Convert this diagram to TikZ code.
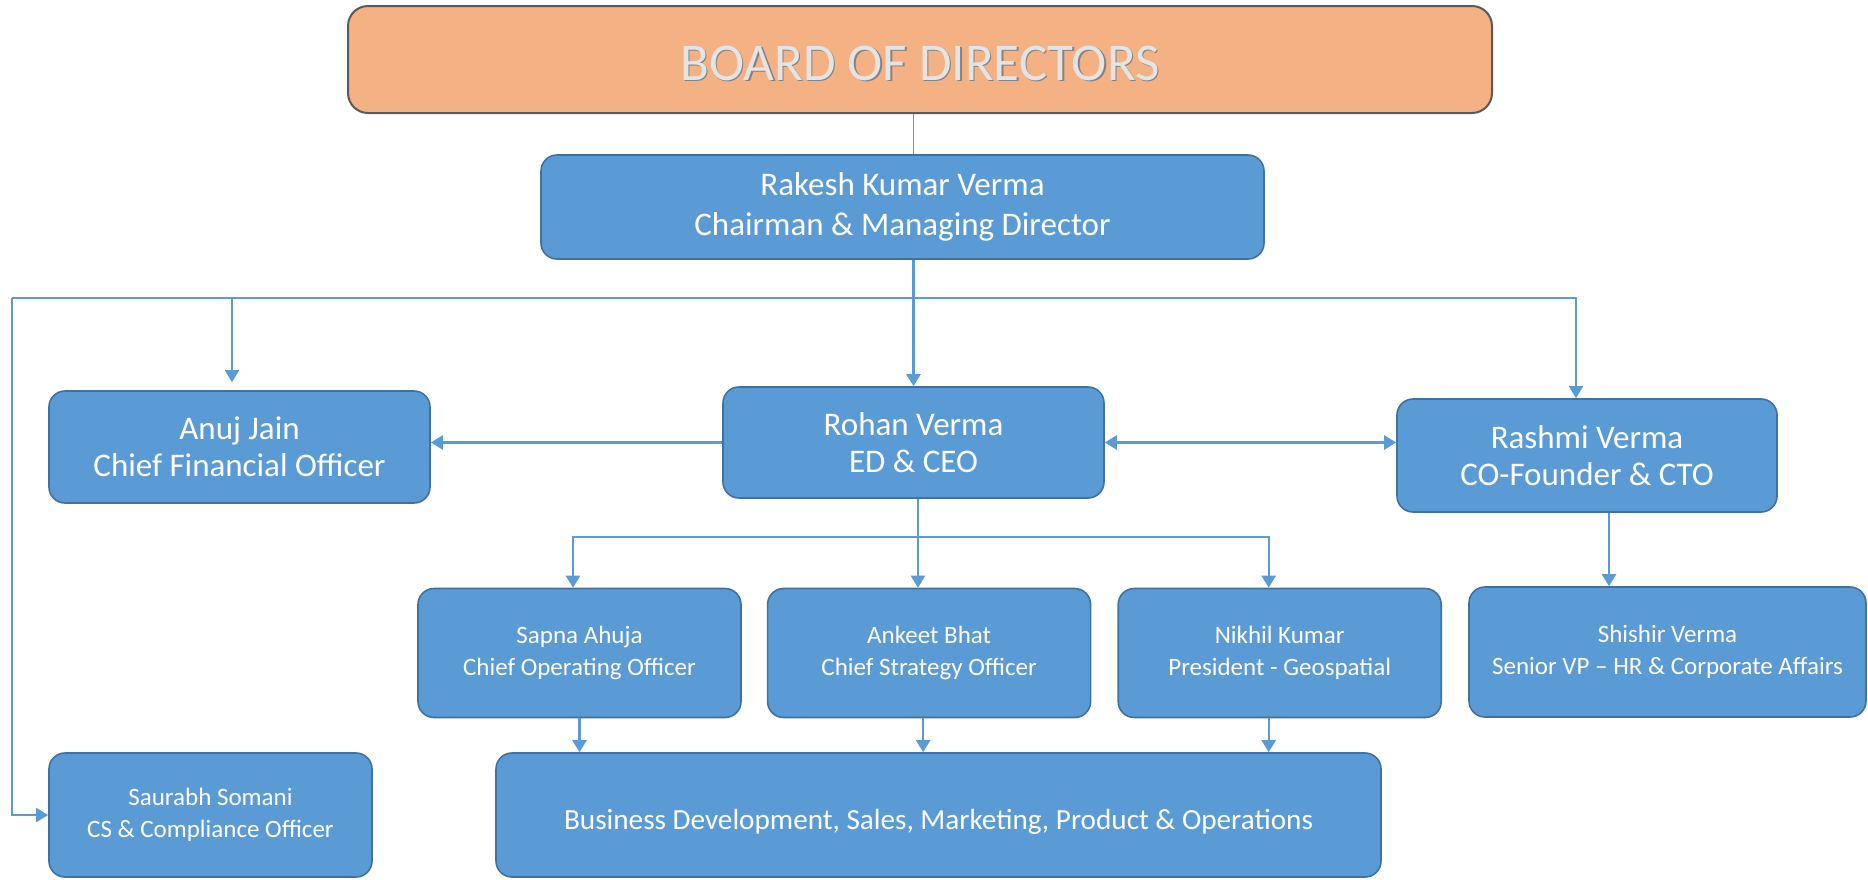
\documentclass[tikz,border=0pt]{standalone}
\usepackage{fontspec}
\setmainfont{Carlito}
\usepackage{tikz}
\usetikzlibrary{arrows.meta,positioning}
\definecolor{boxblue}{HTML}{5B9BD5}
\definecolor{boxedge}{HTML}{41719C}
\definecolor{peach}{HTML}{F4B183}
\definecolor{slate}{HTML}{5A5A5A}
\definecolor{silver}{HTML}{E4E4E4}
\tikzset{
  >={Triangle[length=6pt,width=7pt]},
  flow/.style={->,line width=1.2pt,draw=boxblue},
  twoway/.style={<->,line width=1.2pt,draw=boxblue},
  thinflow/.style={->,line width=0.8pt,draw=boxblue},
  thinline/.style={line width=0.8pt,draw=boxblue},
  person/.style={rounded corners=8pt,draw=boxedge,line width=0.8pt,fill=boxblue,
    text=white,align=center,inner sep=0pt},
  bigperson/.style={person,font=\fontsize{16.5}{18.5}\selectfont,
    minimum width=190.5pt,minimum height=56pt},
  smallperson/.style={person,font=\fontsize{12.5}{16}\selectfont,
    minimum width=161.5pt,minimum height=64.5pt},
  boardbox/.style={rounded corners=10pt,draw=slate,line width=1pt,fill=peach,
    font=\fontsize{26.5}{30}\selectfont,minimum width=572pt,minimum height=53.5pt,
    text height=21pt,text depth=0pt}
}
\newcommand{\embossed}[1]{\makebox[0pt][l]{\kern0.7pt\raisebox{-0.7pt}{\color{slate!75}#1}}{\color{silver}#1}}

\begin{document}
\begin{tikzpicture}[x=0.5pt,y=-0.5pt]
  \useasboundingbox (0,0) rectangle (1868,879);

  \node[boardbox] (board) at (920,59.5) {\embossed{BOARD OF DIRECTORS}};
  \node[bigperson,font=\fontsize{16.5}{20}\selectfont,minimum width=361.5pt,minimum height=52pt]
    (rakesh) at (902.5,207) {Rakesh Kumar Verma\\Chairman \& Managing Director};

  \node[bigperson] (anuj) at (239.5,447) {Anuj Jain\\Chief Financial Officer};
  \node[bigperson,minimum height=55.5pt] (rohan) at (913.5,442.5) {Rohan Verma\\ED \& CEO};
  \node[bigperson,minimum width=190pt,minimum height=56.5pt] (rashmi) at (1587,455.5)
    {Rashmi Verma\\CO-Founder \& CTO};

  \node[smallperson] (sapna) at (579.5,653) {Sapna Ahuja\\Chief Operating Officer};
  \node[smallperson,right=12.5pt of sapna] (ankeet) {Ankeet Bhat\\Chief Strategy Officer};
  \node[smallperson,right=13pt of ankeet] (nikhil) {Nikhil Kumar\\President - Geospatial};
  \node[smallperson,minimum width=198.5pt,minimum height=65pt] (shishir) at (1667.5,652)
    {Shishir Verma\\Senior VP -- HR \& Corporate Affairs};

  \node[smallperson,minimum height=62pt] (saurabh) at (210.5,815)
    {Saurabh Somani\\CS \& Compliance Officer};
  \node[person,font=\fontsize{14.6}{17}\selectfont,minimum width=442.5pt,minimum height=62pt,
    text height=14pt,text depth=0pt] (business) at (938.5,815)
    {Business Development, Sales, Marketing, Product \& Operations};

  \coordinate (rail) at (12,298);
  \coordinate (fork) at (918,537);

  \draw[line width=0.5pt,draw=boxblue] (board.south -| rohan.north) -- (rakesh.north -| rohan.north);
  \draw[flow] (rakesh.south -| rohan.north) -- (rohan.north);
  \draw[thinflow] (rail) -| ([xshift=-5.5pt]rashmi.north);
  \draw[thinflow] ([xshift=-3.75pt]anuj.north |- rail) -- ([xshift=-3.75pt,yshift=4pt]anuj.north);
  \draw[thinflow] (rail) |- (saurabh.west);

  \draw[flow] (rohan.west) -- (rohan.west -| anuj.east);
  \draw[twoway] (rohan.east) -- (rohan.east -| rashmi.west);
  \draw[flow] ([xshift=11pt]rashmi.south) -- ([xshift=11pt]rashmi.south |- shishir.north);

  \draw[flow] (fork |- rohan.south) -- (fork |- ankeet.north);
  \draw[flow] (fork) -| ([xshift=-3.25pt]sapna.north);
  \draw[flow] (fork) -| ([xshift=-5.5pt]nikhil.north);
  \foreach \t/\s in {sapna/0pt,ankeet/-3pt,nikhil/-5.5pt}
    \draw[flow] ([xshift=\s]\t.south) -- ([xshift=\s]\t.south |- business.north);
\end{tikzpicture}
\end{document}
